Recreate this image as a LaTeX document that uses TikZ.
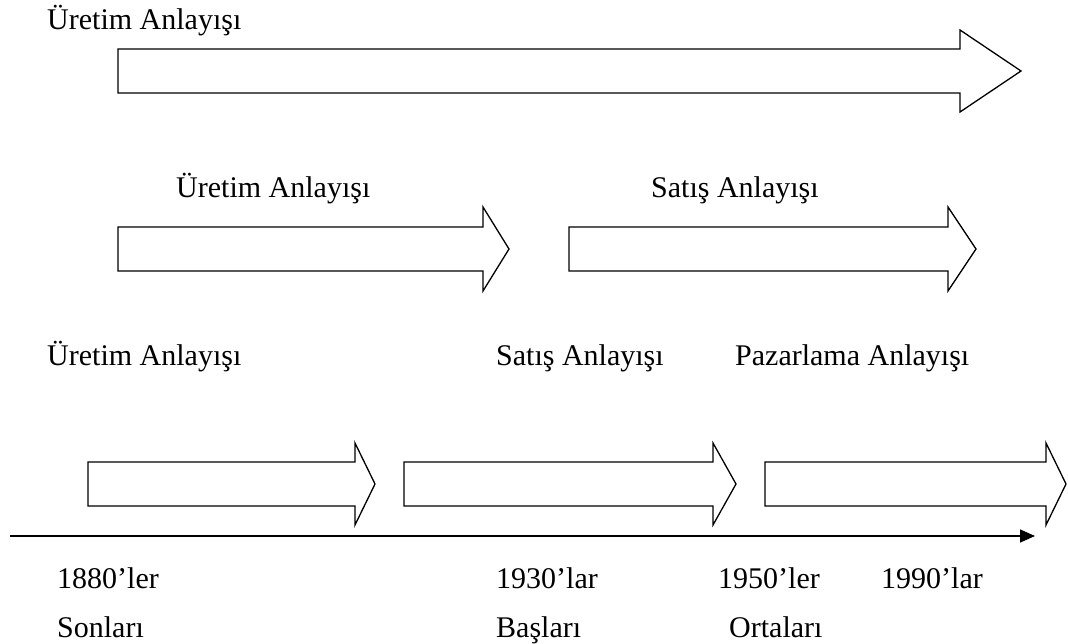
\documentclass[tikz,border=0pt]{standalone}
\usepackage{fontspec}
\setmainfont{Liberation Serif}
\usetikzlibrary{arrows.meta}
\tikzset{
  blockarrow/.style={draw=black, line width=1.3pt, line join=miter, fill=white},
  lbl/.style={anchor=base west, inner sep=0pt, font=\fontsize{30}{35}\selectfont},
  axis/.style={draw=black, line width=1.3pt, -{Triangle[length=15pt,width=13pt]}}
}
\begin{document}
\begin{tikzpicture}[x=1pt,y=-1pt]
\useasboundingbox (0,0) rectangle (1068,644);
% row 1
\node[lbl] (t1) at (47,30) {Üretim Anlayışı};
\draw[blockarrow] (118,49) -- (960,49) -- (960,30) -- (1021,71) -- (960,112) -- (960,93) -- (118,93) -- cycle;
% row 2
\node[lbl] (t2a) at (176,198) {Üretim Anlayışı};
\node[lbl] (t2b) at (651,198) {Satış Anlayışı};
\draw[blockarrow] (118,227) -- (483,227) -- (483,207) -- (509,249) -- (483,291) -- (483,271) -- (118,271) -- cycle;
\draw[blockarrow] (569,227) -- (948,227) -- (948,207) -- (976,249) -- (948,291) -- (948,271) -- (569,271) -- cycle;
% row 3 labels
\node[lbl] (t3a) at (47,365) {Üretim Anlayışı};
\node[lbl] (t3b) at (496,365) {Satış Anlayışı};
\node[lbl] (t3c) at (735,365) {Pazarlama Anlayışı};
% row 4 arrows
\draw[blockarrow] (88,462) -- (355,462) -- (355,443) -- (375,484) -- (355,525) -- (355,506) -- (88,506) -- cycle;
\draw[blockarrow] (404,462) -- (713,462) -- (713,443) -- (736,484) -- (713,525) -- (713,506) -- (404,506) -- cycle;
\draw[blockarrow] (765,462) -- (1046,462) -- (1046,443) -- (1066,484) -- (1046,525) -- (1046,506) -- (765,506) -- cycle;
% axis
\coordinate (ax0) at (10,536);
\coordinate (ax1) at (1035,536);
\draw[axis] (ax0) -- (ax1);
% dates
\node[lbl] (d1) at (57,588) {1880’ler};
\node[lbl] (d2) at (496,588) {1930’lar};
\node[lbl] (d3) at (718,588) {1950’ler};
\node[lbl] (d4) at (881,588) {1990’lar};
\node[lbl] (s1) at (57,637) {Sonları};
\node[lbl] (s2) at (496,637) {Başları};
\node[lbl] (s3) at (729,637) {Ortaları};
\end{tikzpicture}
\end{document}
